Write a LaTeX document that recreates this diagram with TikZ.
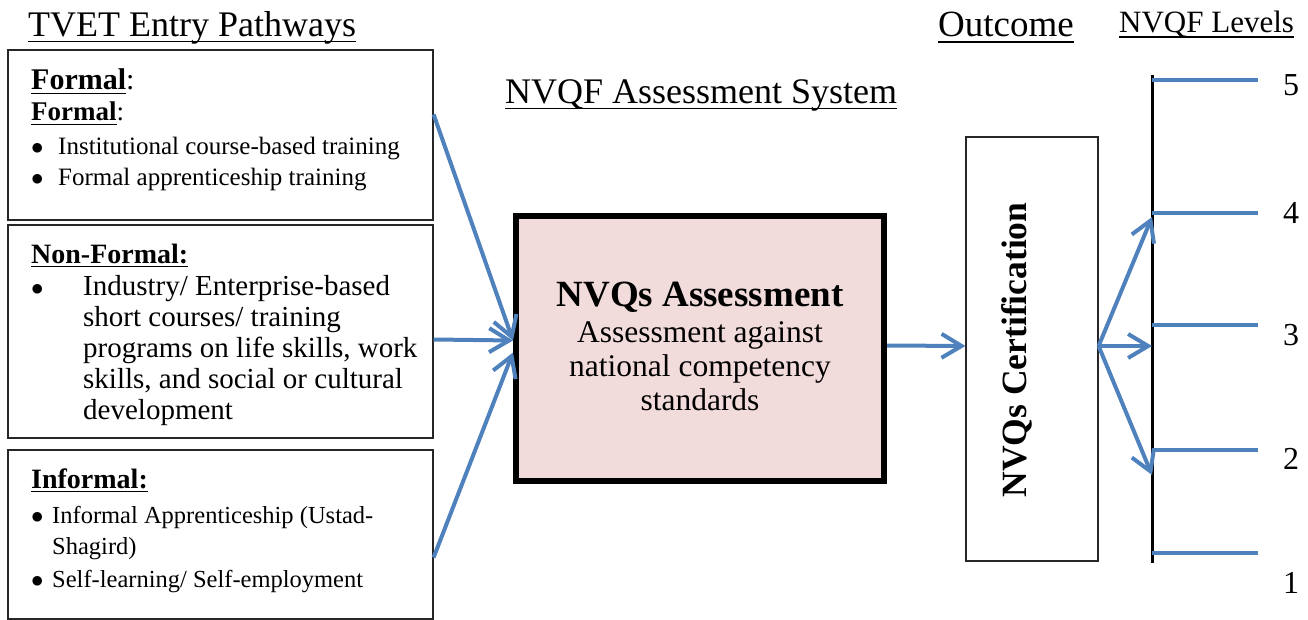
\documentclass[tikz,border=0pt]{standalone}
\usepackage{fontspec}
\setmainfont{Liberation Serif}
\usetikzlibrary{arrows.meta,positioning}
\definecolor{lineblue}{HTML}{4F81BD}
\definecolor{assesspink}{HTML}{F2DCDB}
\newcommand{\undl}[1]{\setbox0\hbox{#1}\leavevmode\rlap{\rule[-0.15em]{\wd0}{0.05em}}\box0}
\newcommand{\bul}{$\bullet$}
\tikzstyle{every node}=[inner sep=0pt]
\tikzstyle{pathbox}=[draw=black!85,line width=1.2pt,minimum width=425pt]
\tikzstyle{ln}=[anchor=base west]
\tikzstyle{flow}=[draw=lineblue,line width=4pt,-{Straight Barb[length=20pt,width=24pt,line width=4pt]}]
\tikzstyle{level}=[draw=lineblue,line width=3.5pt]

\begin{document}
\begin{tikzpicture}[x=1pt,y=-1pt]
  \useasboundingbox (0,0) rectangle (1308,620);
  % titles
  \node[ln,font=\fontsize{36}{40}\selectfont] (tvet) at (28,37) {\undl{TVET Entry Pathways}};
  \node[ln,font=\fontsize{36}{40}\selectfont] (system) at (505,104) {\undl{NVQF Assessment System}};
  \node[ln,font=\fontsize{37}{40}\selectfont] (outcome) at (938,37) {\undl{Outcome}};
  \node[ln,font=\fontsize{31}{36}\selectfont] (levels) at (1119,33) {\undl{NVQF Levels}};

  % pathway boxes
  \node[pathbox,minimum height=170pt] (formal) at (220.5,135) {};
  \node[pathbox,minimum height=213pt] (nonformal) at (220.5,331.5) {};
  \node[pathbox,minimum height=169pt] (informal) at (220.5,534.5) {};

  \node[ln,font=\fontsize{30}{36}\selectfont\bfseries] (f1) at (31,90) {\undl{Formal}\mdseries:};
  \node[ln,font=\fontsize{27}{32}\selectfont\bfseries] (f2) at (31,121) {\undl{Formal}\mdseries:};
  \node[ln,font=\fontsize{25}{28}\selectfont] (f3) at (31,155) {\bul};
  \node[ln,font=\fontsize{25}{28}\selectfont] (f4) at (58,155) {Institutional course-based training};
  \node[ln,font=\fontsize{25}{28}\selectfont] (f5) at (31,186) {\bul};
  \node[ln,font=\fontsize{25}{28}\selectfont] (f6) at (58,186) {Formal apprenticeship training};

  \node[ln,font=\fontsize{28}{32}\selectfont\bfseries] (n1) at (31,263) {\undl{Non-Formal:}};
  \node[ln,font=\fontsize{28}{32}\selectfont] (nb) at (31,295) {\bul};
  \node[ln,font=\fontsize{29}{31}\selectfont,align=left] (n2) at (83,419) {Industry/ Enterprise-based\\short courses/ training\\programs on life skills, work\\skills, and social or cultural\\development};

  \node[ln,font=\fontsize{28}{32}\selectfont\bfseries] (i1) at (31,488) {\undl{Informal:}};
  \node[ln,font=\fontsize{24}{28}\selectfont] (ib1) at (31,523) {\bul};
  \node[ln,font=\fontsize{24.5}{31}\selectfont,align=left] (i2) at (52,554) {Informal Apprenticeship (Ustad-\\Shagird)};
  \node[ln,font=\fontsize{24}{28}\selectfont] (ib2) at (31,587) {\bul};
  \node[ln,font=\fontsize{24.5}{28}\selectfont] (i3) at (52,587) {Self-learning/ Self-employment};

  % assessment and certification
  \node[draw,line width=6pt,fill=assesspink,minimum width=368pt,minimum height=265pt] (assess) at (700,348.5) {};
  \node[font=\fontsize{37}{40}\selectfont\bfseries,anchor=base] (atitle) at (assess.center |- 0,306) {NVQs Assessment};
  \node[font=\fontsize{31.5}{34}\selectfont,align=center,anchor=base] (atext) at (assess.center |- 0,410) {Assessment against\\national competency\\standards};

  \node[draw=black!85,line width=1.2pt,minimum width=132pt,minimum height=424pt] (cert) at (1032,349) {};
  \node[font=\fontsize{35.5}{40}\selectfont\bfseries,rotate=90,anchor=base] (ctext) at (1026,350) {NVQs Certification};

  % level scale
  \coordinate (axtop) at (1152,75);
  \coordinate (axbot) at (1152,563);
  \draw[line width=3pt] (axtop) -- (axbot);
  \foreach \n/\yy/\ny in {5/80/85,4/213/213,3/325/335,2/450/459,1/553/583} {
    \coordinate (lv\n) at (1152,\yy);
    \draw[level] (lv\n) -- ++(106,0);
    \node[font=\fontsize{32}{36}\selectfont] (num\n) at (1291,\ny) {\n};
  }

  % arrows
  \draw[flow] ([yshift=-65pt]formal.north east) -- ([yshift=8pt]assess.west);
  \draw[flow] ([yshift=-8pt]nonformal.east) -- ([yshift=8pt]assess.west);
  \draw[flow] ([yshift=-23pt]informal.east) -- ([yshift=-4pt]assess.west);
  \draw[flow] ([yshift=3pt]assess.east) -- ([yshift=3pt]cert.west);
  \draw[flow] ([yshift=3pt]cert.east) -- ([yshift=-4pt]lv4);
  \draw[flow] ([yshift=3pt]cert.east) -- ([yshift=3pt]cert.east -| axtop);
  \draw[flow] ([yshift=3pt]cert.east) -- ([yshift=-25pt]lv2);
\end{tikzpicture}
\end{document}
